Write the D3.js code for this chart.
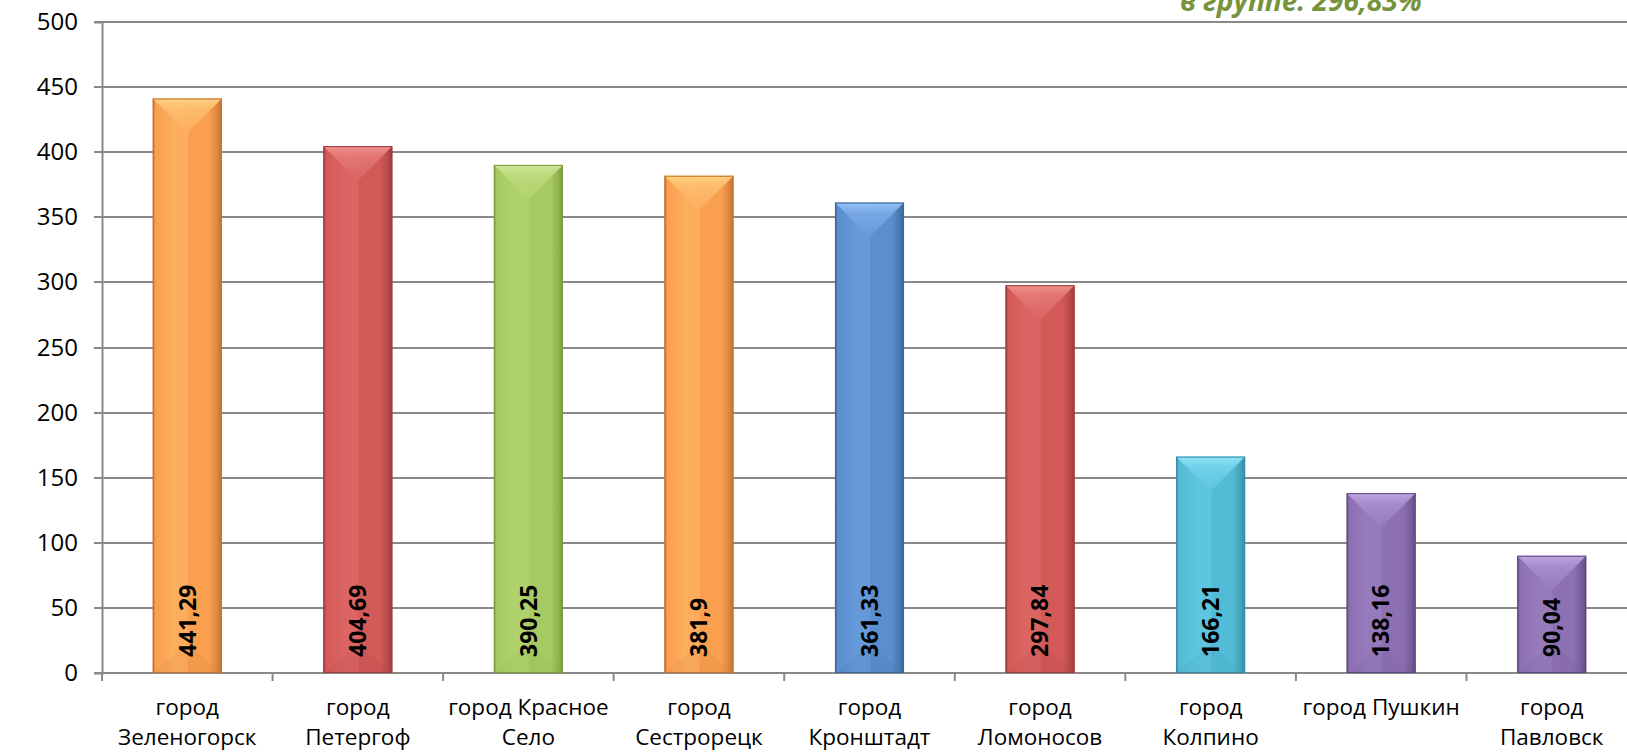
<!DOCTYPE html>
<html><head><meta charset="utf-8">
<script src="https://cdn.jsdelivr.net/npm/d3@7"></script>
<style>html,body{margin:0;padding:0;background:#fff;overflow:hidden}</style>
</head><body><svg id="c" width="1627" height="752"></svg>
<script>
// ---- data ----
const categories = ["город Зеленогорск","город Петергоф","город Красное Село","город Сестрорецк","город Кронштадт","город Ломоносов","город Колпино","город Пушкин","город Павловск"];
const categoryLines = [["город","Зеленогорск"],["город","Петергоф"],["город Красное","Село"],["город","Сестрорецк"],["город","Кронштадт"],["город","Ломоносов"],["город","Колпино"],["город Пушкин"],["город","Павловск"]];
const values = [441.29,404.69,390.25,381.9,361.33,297.84,166.21,138.16,90.04];
const valueLabels = ["441,29","404,69","390,25","381,9","361,33","297,84","166,21","138,16","90,04"];
const yTicks = [0,50,100,150,200,250,300,350,400,450,500];
const noteText = "в группе:  296,83%";
const barColorKeys = ["orange","red","green","orange","blue","red","cyan","purple","purple"];

// ---- styles ----
const palette = {
  orange:{base:"#F99F4E", light:"#FCAE5E", top:"#FFD686", dark:"#C27030"},
  red:{base:"#D35A57", light:"#DA6562", top:"#F29693", dark:"#9E3C3A"},
  green:{base:"#A7CA62", light:"#B0D26D", top:"#D2EB9B", dark:"#7A9A3D"},
  blue:{base:"#5A8ECF", light:"#6599D9", top:"#9CC7FA", dark:"#3A6498"},
  cyan:{base:"#52BBD6", light:"#5DC5DF", top:"#94E8FB", dark:"#368CA3"},
  purple:{base:"#8D70B2", light:"#967BBC", top:"#C3ACE6", dark:"#614A82"}
};
const font = "'Open Sans', 'DejaVu Sans', sans-serif";
const axisColor = "#898989";

const svg = d3.select("#c");
const mLeft = 102, mRight = 1637, mTop = 22, mBottom = 673;

const x = d3.scaleBand().domain(categories).range([mLeft, mRight]).paddingInner(0.595).paddingOuter(0.2975);
const step = x.step();
const y = d3.scaleLinear().domain([0, 500]).range([mBottom, mTop]);

// gradients
const defs = svg.append("defs");
Object.entries(palette).forEach(([k, c]) => {
  const g = defs.append("linearGradient").attr("id", "h-" + k).attr("x1", 0).attr("x2", 1).attr("y1", 0).attr("y2", 0);
  [[0, c.dark],[0.04, c.base],[0.3, c.light],[0.5, c.light],[0.52, c.base],[0.82, c.base],[0.93, d3.interpolateRgb(c.base, c.dark)(0.5)],[1, c.dark]]
    .forEach(([o, col]) => g.append("stop").attr("offset", o).attr("stop-color", col));
  const t = defs.append("linearGradient").attr("id", "t-" + k).attr("x1", 0).attr("x2", 0).attr("y1", 0).attr("y2", 1);
  [[0, c.top],[0.3, d3.interpolateRgb(c.top, c.light)(0.6)],[1, c.light]].forEach(([o, col]) => t.append("stop").attr("offset", o).attr("stop-color", col));
});

// gridlines
svg.append("g").selectAll("line").data(yTicks).join("line")
  .attr("x1", mLeft).attr("x2", mRight)
  .attr("y1", d => Math.round(y(d))).attr("y2", d => Math.round(y(d)))
  .attr("stroke", axisColor).attr("stroke-width", 2);

// y axis
const yAxis = svg.append("g").attr("transform", `translate(${mLeft},0)`)
  .call(d3.axisLeft(y).tickValues(yTicks).tickSize(8).tickPadding(16).tickFormat(d3.format("d")));
yAxis.select(".domain").attr("stroke", axisColor).attr("stroke-width", 2);
yAxis.selectAll(".tick line").attr("stroke", axisColor).attr("stroke-width", 2);
yAxis.selectAll(".tick text").attr("font-family", font).attr("font-size", 24).attr("fill", "#000");
yAxis.selectAll(".tick").attr("transform", d => `translate(0,${Math.round(y(d))})`);

// x axis ticks at category boundaries
svg.append("g").selectAll("line").data(d3.range(categories.length + 1)).join("line")
  .attr("x1", i => mLeft + i * step).attr("x2", i => mLeft + i * step)
  .attr("y1", mBottom).attr("y2", mBottom + 8)
  .attr("stroke", axisColor).attr("stroke-width", 2);

// bars
const bw = x.bandwidth();
const bars = svg.append("g").selectAll("g").data(values).join("g");
bars.each(function(v, i) {
  const g = d3.select(this);
  const k = barColorKeys[i], c = palette[k];
  const x0 = x(categories[i]), y0 = y(v), yb = y(0), h = yb - y0;
  g.append("rect").attr("x", x0).attr("y", y0).attr("width", bw).attr("height", h).attr("fill", `url(#h-${k})`);
  const d = Math.min(bw / 2, h / 2);
  g.append("polygon").attr("points", `${x0},${y0} ${x0 + bw},${y0} ${x0 + bw / 2},${y0 + d}`).attr("fill", `url(#t-${k})`).attr("opacity", 0.9);
  g.append("polygon").attr("points", `${x0},${yb} ${x0 + bw},${yb} ${x0 + bw / 2},${yb - d * 0.85}`).attr("fill", c.dark).attr("opacity", 0.1);
  g.append("rect").attr("x", x0 + 0.5).attr("y", y0 + 0.5).attr("width", bw - 1).attr("height", h - 1)
    .attr("fill", "none").attr("stroke", c.dark).attr("stroke-width", 1);
});

// value labels (rotated)
svg.append("g").selectAll("text").data(values).join("text")
  .attr("transform", (v, i) => `translate(${x(categories[i]) + bw / 2},${y(0) - 16}) rotate(-90)`)
  .attr("dy", "0.36em").attr("text-anchor", "start")
  .attr("font-family", font).attr("font-weight", "bold").attr("font-size", 23).attr("fill", "#000")
  .text((v, i) => valueLabels[i]);

// category labels
const cl = svg.append("g").selectAll("text").data(categories).join("text")
  .attr("x", d => x(d) + bw / 2).attr("y", 715)
  .attr("text-anchor", "middle").attr("font-family", font).attr("font-size", 22.5).attr("fill", "#000");
cl.each(function(d, i) {
  d3.select(this).selectAll("tspan").data(categoryLines[i]).join("tspan")
    .attr("x", x(d) + bw / 2).attr("dy", (t, j) => j === 0 ? 0 : 30).text(t => t);
});

// note at top (partially cut)
svg.append("text").attr("x", 1180).attr("y", 11)
  .attr("font-family", font).attr("font-weight", "bold").attr("font-style", "italic")
  .attr("font-size", 28).attr("fill", "#77933C").text(noteText);
</script></body></html>
